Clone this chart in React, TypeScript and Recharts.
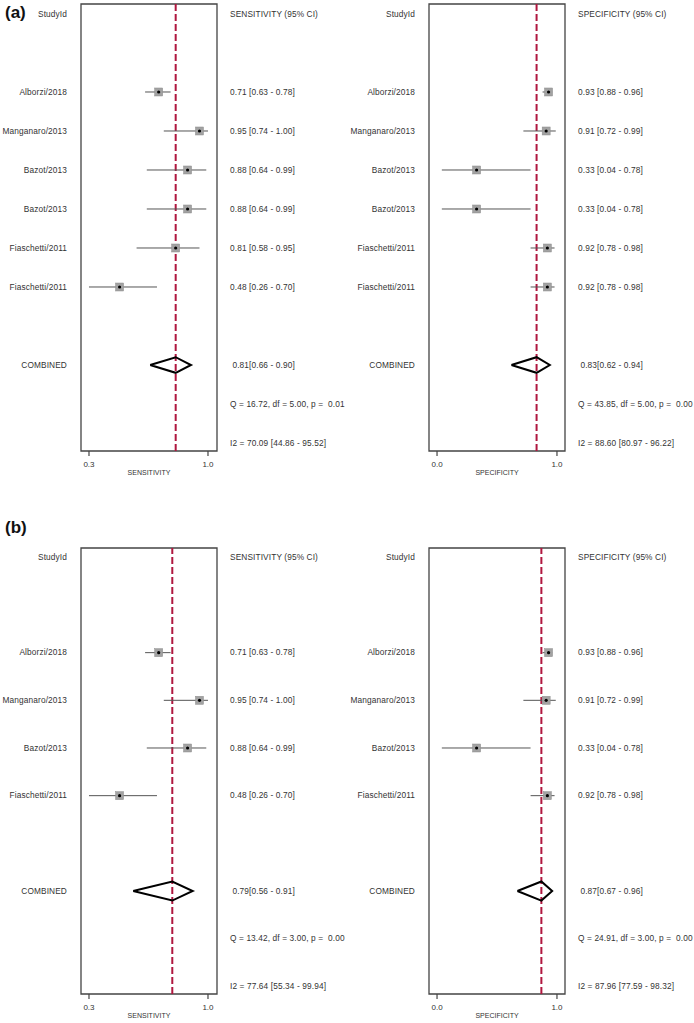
import { ComposedChart, Scatter, ErrorBar, XAxis, YAxis, ReferenceLine, ReferenceArea } from 'recharts';

// (a) all six study arms
const STUDIES_A = ['Alborzi/2018', 'Manganaro/2013', 'Bazot/2013', 'Bazot/2013', 'Fiaschetti/2011', 'Fiaschetti/2011'];
const SENS_A = [0.71, 0.95, 0.88, 0.88, 0.81, 0.48];
const SENS_A_LO = [0.63, 0.74, 0.64, 0.64, 0.58, 0.26];
const SENS_A_HI = [0.78, 1.0, 0.99, 0.99, 0.95, 0.7];
const SENS_A_POOLED = [0.81, 0.66, 0.9];
const SENS_A_Q = [16.72, 5.0, 0.01];
const SENS_A_I2 = [70.09, 44.86, 95.52];

const SPEC_A = [0.93, 0.91, 0.33, 0.33, 0.92, 0.92];
const SPEC_A_LO = [0.88, 0.72, 0.04, 0.04, 0.78, 0.78];
const SPEC_A_HI = [0.96, 0.99, 0.78, 0.78, 0.98, 0.98];
const SPEC_A_POOLED = [0.83, 0.62, 0.94];
const SPEC_A_Q = [43.85, 5.0, 0.0];
const SPEC_A_I2 = [88.6, 80.97, 96.22];

// (b) one arm per study
const STUDIES_B = ['Alborzi/2018', 'Manganaro/2013', 'Bazot/2013', 'Fiaschetti/2011'];
const SENS_B = [0.71, 0.95, 0.88, 0.48];
const SENS_B_LO = [0.63, 0.74, 0.64, 0.26];
const SENS_B_HI = [0.78, 1.0, 0.99, 0.7];
const SENS_B_POOLED = [0.79, 0.56, 0.91];
const SENS_B_Q = [13.42, 3.0, 0.0];
const SENS_B_I2 = [77.64, 55.34, 99.94];

const SPEC_B = [0.93, 0.91, 0.33, 0.92];
const SPEC_B_LO = [0.88, 0.72, 0.04, 0.78];
const SPEC_B_HI = [0.96, 0.99, 0.78, 0.98];
const SPEC_B_POOLED = [0.87, 0.67, 0.96];
const SPEC_B_Q = [24.91, 3.0, 0.0];
const SPEC_B_I2 = [87.96, 77.59, 98.32];

const SENS_TICKS = [0.3, 1.0];
const SPEC_TICKS = [0.0, 1.0];

const FONT = '"Liberation Sans", Arial, Helvetica, sans-serif';
const TEXT = '#333';
const RED = '#b0173f';

interface PanelProps {
  names: string[];
  est: number[];
  lo: number[];
  hi: number[];
  pooled: number[];
  q: number[];
  i2: number[];
  measure: string;
  xDomain: [number, number];
  xTicks: number[];
  yDomain: [number, number];
  width: number;
  height: number;
}

const f2 = (v: number) => v.toFixed(2);

// plain one-line tick text (the default tick wraps long strings)
const rowTick = (labels: Map<number, string>) => (t: any) => (
  <text
    x={t.x}
    y={t.y}
    dy="0.33em"
    textAnchor={t.textAnchor}
    fontSize={8.3}
    fill={TEXT}
    fontFamily={FONT}
    style={{ whiteSpace: 'pre', letterSpacing: 0.12 }}
  >
    {labels.get(t.payload.value) ?? ''}
  </text>
);

function ForestPanel(p: PanelProps) {
  const n = p.names.length;
  const comb = n + 3;
  const axisMin = p.xTicks[0];

  // CI is cut at the first axis tick, like the original software does
  const points = p.est.map((e, i) => ({
    x: e,
    y: i + 2,
    err: [e - Math.max(p.lo[i], axisMin), p.hi[i] - e],
  }));

  const [pe, pl, ph] = p.pooled;
  const diamond = [
    { x: pl, y: comb },
    { x: pe, y: comb - 0.2 },
    { x: ph, y: comb },
    { x: pe, y: comb + 0.2 },
    { x: pl, y: comb },
  ];

  const leftLabels = new Map<number, string>();
  leftLabels.set(0, 'StudyId');
  p.names.forEach((s, i) => leftLabels.set(i + 2, s));
  leftLabels.set(comb, 'COMBINED');

  const rightLabels = new Map<number, string>();
  rightLabels.set(0, `${p.measure} (95% CI)`);
  p.est.forEach((e, i) => rightLabels.set(i + 2, `${f2(e)} [${f2(p.lo[i])} - ${f2(p.hi[i])}]`));
  rightLabels.set(comb, ` ${f2(pe)}[${f2(pl)} - ${f2(ph)}]`);
  rightLabels.set(comb + 1, `Q = ${f2(p.q[0])}, df = ${f2(p.q[1])}, p =  ${f2(p.q[2])}`);
  rightLabels.set(comb + 2, `I2 = ${f2(p.i2[0])} [${f2(p.i2[1])} - ${f2(p.i2[2])}]`);

  return (
    <ComposedChart
      width={p.width}
      height={p.height}
      margin={{ top: 4, right: 0, bottom: 0, left: 0 }}
      style={{ fontFamily: FONT, overflow: 'visible' }}
    >
      <XAxis
        type="number"
        dataKey="x"
        domain={p.xDomain}
        allowDataOverflow
        ticks={p.xTicks}
        tickFormatter={(v: number) => v.toFixed(1)}
        tickSize={5}
        tickMargin={5}
        tickLine={{ stroke: '#444', strokeWidth: 1.2 }}
        axisLine={false}
        height={26}
        tick={{ fontSize: 8, fill: TEXT, fontFamily: FONT }}
        interval={0}
        label={{ value: p.measure, position: 'insideBottom', offset: 2.5, fontSize: 7, fill: TEXT }}
      />
      <YAxis
        type="number"
        dataKey="y"
        domain={p.yDomain}
        allowDataOverflow
        reversed
        width={81}
        ticks={[...leftLabels.keys()]}
        interval={0}
        tickSize={0}
        tickMargin={14}
        tickLine={false}
        axisLine={false}
        tick={rowTick(leftLabels)}
      />
      <YAxis
        yAxisId="r"
        orientation="right"
        type="number"
        dataKey="y"
        domain={p.yDomain}
        allowDataOverflow
        reversed
        width={p.width - 81 - 136}
        ticks={[...rightLabels.keys()]}
        interval={0}
        tickSize={0}
        tickMargin={13}
        tickLine={false}
        axisLine={false}
        tick={rowTick(rightLabels)}
      />
      <ReferenceArea
        x1={p.xDomain[0]}
        x2={p.xDomain[1]}
        y1={p.yDomain[0]}
        y2={p.yDomain[1]}
        fill="none"
        fillOpacity={0}
        stroke="#444"
        strokeWidth={1.3}
        ifOverflow="visible"
      />
      <ReferenceLine x={pe} stroke={RED} strokeWidth={2} strokeDasharray="7 3" ifOverflow="visible" />
      <Scatter
        yAxisId="r"
        data={diamond}
        line={{ stroke: '#000', strokeWidth: 2 }}
        lineJointType="linear"
        shape={() => <g />}
        isAnimationActive={false}
      />
      <Scatter
        data={points}
        isAnimationActive={false}
        shape={(s: any) => (
          <g>
            <rect x={s.cx - 4} y={s.cy - 4} width={8} height={8} fill="#a2a2a2" stroke="#8c8c8c" strokeWidth={0.5} />
            <circle cx={s.cx} cy={s.cy} r={1.6} fill="#000" />
          </g>
        )}
      >
        <ErrorBar dataKey="err" direction="x" width={0} stroke="#555" strokeWidth={1} isAnimationActive={false} />
      </Scatter>
    </ComposedChart>
  );
}

const SENS_X: [number, number] = [0.253, 1.053];
const SPEC_X: [number, number] = [-0.067, 1.067];
const ROWS_A: [number, number] = [-0.256, 11.205];
const ROWS_B: [number, number] = [-0.195, 9.16];

export default function App() {
  const tag = { position: 'absolute' as const, left: 5, fontSize: 17, fontWeight: 700, lineHeight: '20px', fontFamily: FONT, color: '#111' };
  return (
    <div style={{ position: 'relative', width: 694, height: 1023, background: '#fff', overflow: 'hidden' }}>
      <style>{'body{margin:0}'}</style>
      <div style={{ ...tag, top: 3 }}>(a)</div>
      <div style={{ ...tag, top: 518 }}>(b)</div>

      <div style={{ position: 'absolute', left: 0, top: 0 }}>
        <ForestPanel names={STUDIES_A} est={SENS_A} lo={SENS_A_LO} hi={SENS_A_HI} pooled={SENS_A_POOLED}
          q={SENS_A_Q} i2={SENS_A_I2} measure="SENSITIVITY" xDomain={SENS_X} xTicks={SENS_TICKS}
          yDomain={ROWS_A} width={362} height={477} />
      </div>
      <div style={{ position: 'absolute', left: 348, top: 0 }}>
        <ForestPanel names={STUDIES_A} est={SPEC_A} lo={SPEC_A_LO} hi={SPEC_A_HI} pooled={SPEC_A_POOLED}
          q={SPEC_A_Q} i2={SPEC_A_I2} measure="SPECIFICITY" xDomain={SPEC_X} xTicks={SPEC_TICKS}
          yDomain={ROWS_A} width={346} height={477} />
      </div>
      <div style={{ position: 'absolute', left: 0, top: 544 }}>
        <ForestPanel names={STUDIES_B} est={SENS_B} lo={SENS_B_LO} hi={SENS_B_HI} pooled={SENS_B_POOLED}
          q={SENS_B_Q} i2={SENS_B_I2} measure="SENSITIVITY" xDomain={SENS_X} xTicks={SENS_TICKS}
          yDomain={ROWS_B} width={362} height={476} />
      </div>
      <div style={{ position: 'absolute', left: 348, top: 544 }}>
        <ForestPanel names={STUDIES_B} est={SPEC_B} lo={SPEC_B_LO} hi={SPEC_B_HI} pooled={SPEC_B_POOLED}
          q={SPEC_B_Q} i2={SPEC_B_I2} measure="SPECIFICITY" xDomain={SPEC_X} xTicks={SPEC_TICKS}
          yDomain={ROWS_B} width={346} height={476} />
      </div>
    </div>
  );
}
